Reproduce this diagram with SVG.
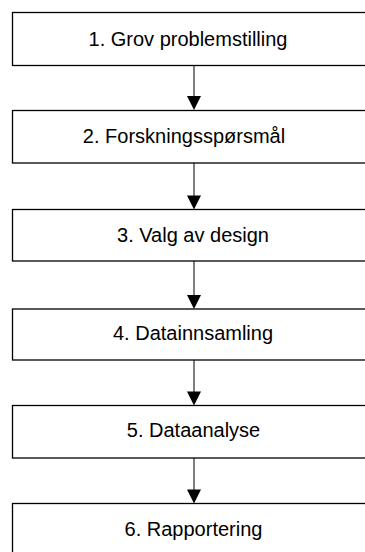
<svg xmlns="http://www.w3.org/2000/svg" width="365" height="552" viewBox="0 0 365 552">
  <style>
    .box { fill: #ffffff; stroke: #000000; stroke-width: 1.3; }
    .label { font-family: "Liberation Sans", Arial, sans-serif; font-size: 20px; fill: #000000; text-anchor: middle; }
    .link { stroke: #000000; stroke-width: 1; fill: none; }
    .head { fill: #000000; }
  </style>
  <rect width="365" height="552" fill="#ffffff"/>

  <g id="connectors">
    <line class="link" x1="194" y1="65.5" x2="194" y2="97"/>
    <polygon class="head" points="187,96 201,96 194,110"/>
    <line class="link" x1="194" y1="163" x2="194" y2="196"/>
    <polygon class="head" points="187,195.5 201,195.5 194,209.5"/>
    <line class="link" x1="194" y1="261" x2="194" y2="296"/>
    <polygon class="head" points="187,295 201,295 194,309"/>
    <line class="link" x1="194" y1="360" x2="194" y2="392"/>
    <polygon class="head" points="187,391.5 201,391.5 194,405.5"/>
    <line class="link" x1="194" y1="458" x2="194" y2="490"/>
    <polygon class="head" points="187,489.5 201,489.5 194,503.5"/>
  </g>

  <g id="node1">
    <rect class="box" x="12.5" y="12.5" width="370" height="53"/>
    <text class="label" x="188" y="46">1. Grov problemstilling</text>
  </g>
  <g id="node2">
    <rect class="box" x="12.5" y="110.5" width="370" height="52.5"/>
    <text class="label" x="184" y="143">2. Forskningsspørsmål</text>
  </g>
  <g id="node3">
    <rect class="box" x="12.5" y="209.5" width="370" height="51.5"/>
    <text class="label" x="193" y="242">3. Valg av design</text>
  </g>
  <g id="node4">
    <rect class="box" x="12.5" y="309" width="370" height="51"/>
    <text class="label" x="193" y="340">4. Datainnsamling</text>
  </g>
  <g id="node5">
    <rect class="box" x="12.5" y="405.5" width="370" height="52.5"/>
    <text class="label" x="193.5" y="437">5. Dataanalyse</text>
  </g>
  <g id="node6">
    <rect class="box" x="12.5" y="503.5" width="370" height="60"/>
    <text class="label" x="193.5" y="536">6. Rapportering</text>
  </g>
</svg>
